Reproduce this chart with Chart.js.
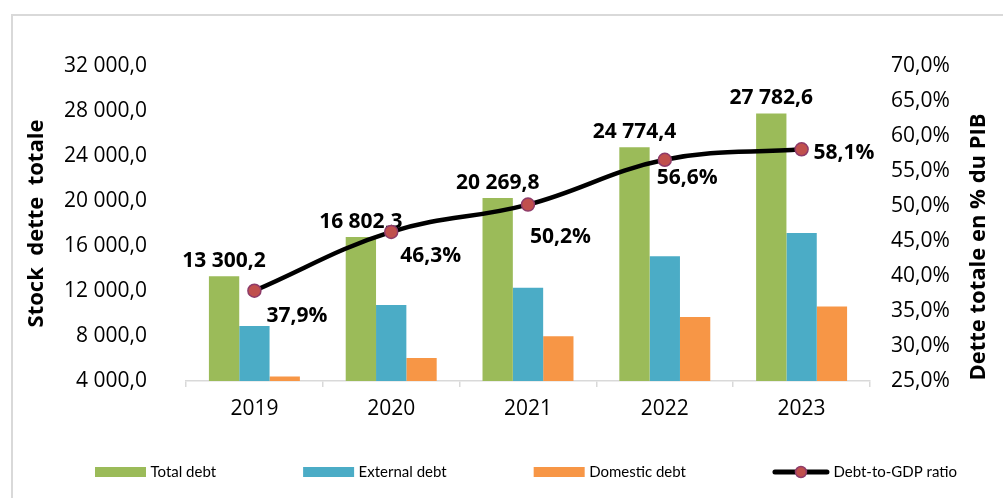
<!DOCTYPE html>
<html><head><meta charset="utf-8">
<script src="https://cdn.jsdelivr.net/npm/chart.js@4.4.1/dist/chart.umd.min.js"></script>
<style>html,body{margin:0;padding:0;background:#fff;}#wrap{width:1003px;height:498px;}</style>
</head><body><div id="wrap"><canvas id="c" width="1003" height="498"></canvas></div>
<script>
const categories = ['2019', '2020', '2021', '2022', '2023'];
const totalDebt = [13300.2, 16802.3, 20269.8, 24774.4, 27782.6];
const externalDebt = [8900, 10750, 12300, 15100, 17150];
const domesticDebt = [4400, 6050, 7970, 9700, 10630];
const debtToGdp = [37.9, 46.3, 50.2, 56.6, 58.1];
const totalDebtLabels = ['13 300,2', '16 802,3', '20 269,8', '24 774,4', '27 782,6'];
const ratioLabels = ['37,9%', '46,3%', '50,2%', '56,6%', '58,1%'];
const leftTickLabels = ['4 000,0', '8 000,0', '12 000,0', '16 000,0', '20 000,0', '24 000,0', '28 000,0', '32 000,0'];
const rightTickLabels = ['25,0%', '30,0%', '35,0%', '40,0%', '45,0%', '50,0%', '55,0%', '60,0%', '65,0%', '70,0%'];
const leftTitle = 'Stock  dette  totale';
const rightTitle = 'Dette totale en % du PIB';
const seriesNames = ['Total debt', 'External debt', 'Domestic debt', 'Debt-to-GDP ratio'];

const GREEN = '#9BBB59', BLUE = '#4BACC6', ORANGE = '#F79646';
const PT_FILL = '#C0504D', PT_BORDER = '#8E3B69';
const FONT = '"Open Sans", "Liberation Sans", sans-serif';
const LEGEND_FONT = 'Lato, "Open Sans", sans-serif';
// label offsets relative to the point (left edge dx, center dy)
const ratioLabelOffsets = [[12, 25], [9, 24.5], [2, 32], [-8, 18], [12, 3.5]];

const decorPlugin = {
  id: 'decor',
  beforeDraw(chart) {
    const ctx = chart.ctx;
    ctx.save();
    ctx.fillStyle = '#fff';
    ctx.fillRect(0, 0, chart.width, chart.height);
    ctx.strokeStyle = '#d9d9d9';
    ctx.lineWidth = 2;
    ctx.beginPath();
    ctx.moveTo(12, chart.height + 5);
    ctx.lineTo(12, 15);
    ctx.lineTo(chart.width + 5, 15);
    ctx.stroke();
    ctx.restore();
  },
  afterDatasetDraw(chart, args) {
    if (args.index !== 0) return;
    const ctx = chart.ctx;
    ctx.save();
    ctx.font = 'bold 21px ' + FONT;
    ctx.fillStyle = '#000';
    ctx.textAlign = 'center';
    ctx.textBaseline = 'middle';
    args.meta.data.forEach((bar, i) => {
      ctx.fillText(totalDebtLabels[i], bar.x, bar.y - 15);
    });
    ctx.restore();
  },
  afterDatasetsDraw(chart) {
    const ctx = chart.ctx;
    const meta = chart.getDatasetMeta(3);
    ctx.save();
    ctx.font = 'bold 21px ' + FONT;
    ctx.fillStyle = '#000';
    ctx.textAlign = 'left';
    ctx.textBaseline = 'middle';
    meta.data.forEach((pt, i) => {
      const o = ratioLabelOffsets[i];
      ctx.fillText(ratioLabels[i], pt.x + o[0], pt.y + o[1]);
    });
    ctx.restore();
  },
  afterDraw(chart) {
    const ctx = chart.ctx;
    const ya = chart.scales.y;
    ctx.save();
    ctx.fillStyle = '#000';
    ctx.font = 'bold 22px ' + FONT;
    ctx.textAlign = 'center';
    ctx.textBaseline = 'alphabetic';
    ctx.save();
    ctx.translate(43, (ya.top + ya.bottom) / 2);
    ctx.rotate(-Math.PI / 2);
    ctx.fillText(leftTitle, 0, 0);
    ctx.restore();
    ctx.save();
    ctx.translate(985, 247);
    ctx.rotate(-Math.PI / 2);
    ctx.fillText(rightTitle, 0, 0);
    ctx.restore();

    // legend
    ctx.font = '15px ' + LEGEND_FONT;
    ctx.textAlign = 'left';
    ctx.textBaseline = 'middle';
    const ds = chart.data.datasets;
    let x = 95;
    const y = 472;
    ds.forEach((d) => {
      if (d.type === 'line') {
        const w = 56;
        ctx.strokeStyle = '#000';
        ctx.lineWidth = 5;
        ctx.lineCap = 'round';
        ctx.beginPath();
        ctx.moveTo(x + 2, y);
        ctx.lineTo(x + w - 2, y);
        ctx.stroke();
        ctx.beginPath();
        ctx.arc(x + w / 2, y, 5.5, 0, Math.PI * 2);
        ctx.fillStyle = PT_FILL;
        ctx.fill();
        ctx.lineWidth = 1.5;
        ctx.strokeStyle = PT_BORDER;
        ctx.stroke();
        x += w;
      } else {
        const w = 51;
        ctx.fillStyle = d.backgroundColor;
        ctx.fillRect(x, y - 5, w, 10);
        x += w;
      }
      x += 4.5;
      ctx.fillStyle = '#000';
      ctx.fillText(d.label, x, y);
      x += ctx.measureText(d.label).width + 87;
    });
    ctx.restore();
  }
};

new Chart(document.getElementById('c'), {
  data: {
    labels: categories,
    datasets: [
      { type: 'bar', label: seriesNames[0], data: totalDebt, backgroundColor: GREEN, yAxisID: 'y', order: 1 },
      { type: 'bar', label: seriesNames[1], data: externalDebt, backgroundColor: BLUE, yAxisID: 'y', order: 1 },
      { type: 'bar', label: seriesNames[2], data: domesticDebt, backgroundColor: ORANGE, yAxisID: 'y', order: 1 },
      { type: 'line', label: seriesNames[3], data: debtToGdp, yAxisID: 'y1', order: 0,
        borderColor: '#000', borderWidth: 4.5, tension: 0.4, clip: false,
        pointRadius: 6.5, pointBackgroundColor: PT_FILL, pointBorderColor: PT_BORDER, pointBorderWidth: 1.5 }
    ]
  },
  options: {
    responsive: false,
    animation: false,
    events: [],
    layout: { padding: { left: 36, right: 0, top: 66, bottom: 67 } },
    datasets: { bar: { categoryPercentage: 0.665, barPercentage: 1.0 } },
    plugins: { legend: { display: false }, tooltip: { enabled: false } },
    scales: {
      x: {
        offset: true,
        grid: { display: true, offset: true, drawOnChartArea: false, drawTicks: true, tickLength: 6, color: '#d9d9d9', lineWidth: 1.5 },
        border: { display: true, color: '#d9d9d9', width: 1.5 },
        ticks: { font: { family: FONT, size: 21 }, color: '#000', padding: 9, maxRotation: 0 },
        afterFit: s => { s.height = 50; }
      },
      y: {
        position: 'left', min: 4000, max: 32000,
        grid: { display: false, drawTicks: false, tickLength: 0 },
        border: { display: false },
        ticks: { stepSize: 4000, padding: 39, font: { family: FONT, size: 21 }, color: '#000',
          callback: (v, i) => leftTickLabels[i] },
        afterFit: s => { s.width = 150; }
      },
      y1: {
        position: 'right', min: 25, max: 70,
        grid: { display: false, drawTicks: false, tickLength: 0 },
        border: { display: false },
        ticks: { stepSize: 5, padding: 21, font: { family: FONT, size: 21 }, color: '#000',
          callback: (v, i) => rightTickLabels[i] },
        afterFit: s => { s.width = 133; }
      }
    }
  },
  plugins: [decorPlugin]
});
</script>
</body></html>
